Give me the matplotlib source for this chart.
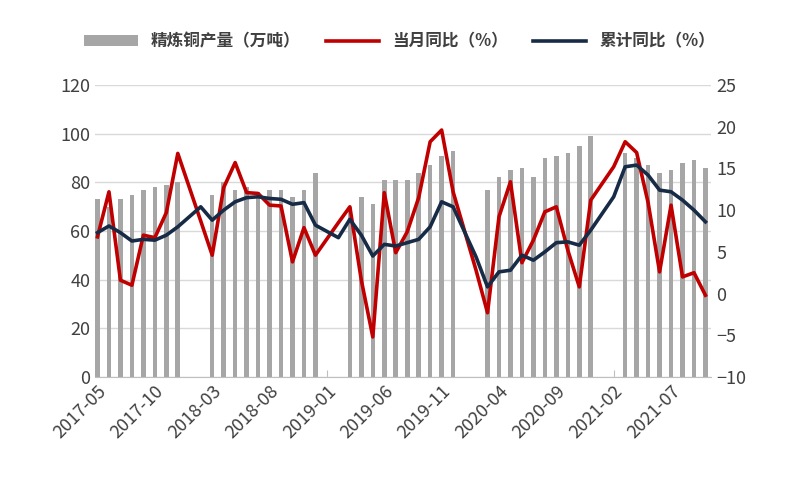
import matplotlib
matplotlib.use("Agg")
import matplotlib.pyplot as plt
import numpy as np
import pandas as pd

plt.rcParams['font.family'] = ['Noto Sans CJK SC', 'DejaVu Sans']

months = pd.period_range('2017-05', '2021-10', freq='M')
nan = np.nan
output = [73, 70, 73, 75, 77, 78, 79, 80,
          nan, nan, 75, 80, 77, 78, 76, 77, 77, 74, 77, 84,
          nan, nan, 70, 74, 71, 81, 81, 81, 84, 87, 91, 93,
          nan, nan, 77, 82, 85, 86, 82, 90, 91, 92, 95, 99,
          nan, nan, 92, 90, 87, 84, 85, 88, 89, 86]
monthly_yoy = [6.8, 12.2, 1.6, 1.0, 7.0, 6.7, 9.7, 16.8,
               nan, 8.7, 4.6, 12.7, 15.7, 12.1, 12.0, 10.6, 10.5, 3.8, 7.9, 4.6,
               nan, 8.5, 10.4, 1.6, -5.2, 12.1, 4.9, 7.4, 11.5, 18.2, 19.6, 12.2,
               nan, 2.8, -2.3, 9.2, 13.4, 3.7, 6.4, 9.8, 10.4, 5.2, 0.8, 11.2,
               nan, 15.2, 18.2, 16.9, 10.9, 2.6, 10.6, 2.0, 2.5, -0.2]
cum_yoy = [7.3, 8.1, 7.3, 6.3, 6.5, 6.4, 7.0, 8.0,
           nan, 10.4, 8.8, 10.0, 11.0, 11.5, 11.6, 11.4, 11.3, 10.7, 10.9, 8.2,
           nan, 6.7, 8.9, 7.0, 4.5, 5.9, 5.7, 6.1, 6.5, 8.0, 11.0, 10.4,
           nan, 4.4, 0.8, 2.6, 2.8, 4.6, 4.0, 5.0, 6.1, 6.2, 5.8, 7.6,
           nan, 11.6, 15.2, 15.4, 14.2, 12.4, 12.2, 11.2, 10.0, 8.6]
tick_labels = ['2017-05', '2017-10', '2018-03', '2018-08', '2019-01', '2019-06',
               '2019-11', '2020-04', '2020-09', '2021-02', '2021-07']

x = np.arange(len(months))
out = np.array(output, float)
my = np.array(monthly_yoy, float)
cy = np.array(cum_yoy, float)

fig = plt.figure(figsize=(8, 5), dpi=100)
ax = fig.add_axes([0.119, 0.246, 0.77, 0.584])
ax2 = ax.twinx()
ax.bar(x, out, width=0.4, color='#a6a6a6', label='精炼铜产量（万吨）', zorder=2)
m1 = ~np.isnan(my)
ax2.plot(x[m1], my[m1], color='#c00000', lw=2.6, label='当月同比（%）', zorder=3)
m2 = ~np.isnan(cy)
ax2.plot(x[m2], cy[m2], color='#172b46', lw=2.6, label='累计同比（%）', zorder=4)

ax.set_ylim(0, 120)
ax.set_yticks(range(0, 121, 20))
ax2.set_ylim(-10, 25)
ax2.set_yticks(range(-10, 26, 5))
ax.set_xlim(-0.2, len(x) - 0.5)
ax.grid(axis='y', color='#d9d9d9', lw=1, zorder=0)
ax.set_axisbelow(True)
for a in (ax, ax2):
    for s in ('top', 'right', 'left'):
        a.spines[s].set_visible(False)
    a.tick_params(length=0, labelsize=13, colors='#404040')
ax2.spines['bottom'].set_visible(False)
ax.spines['bottom'].set_color('#bfbfbf')
tick_pos = [i for i, m in enumerate(months) if str(m) in tick_labels]
ax.set_xticks(tick_pos)
ax.set_xticklabels(tick_labels, rotation=45, ha='right', rotation_mode='anchor', fontsize=13)
ax.tick_params(axis='x', length=5, color='#bfbfbf', direction='in')

h1, l1 = ax.get_legend_handles_labels()
h2, l2 = ax2.get_legend_handles_labels()
leg = fig.legend(h1 + h2, l1 + l2, loc='upper center', bbox_to_anchor=(0.5, 0.965), ncol=3,
                 frameon=False, fontsize=12, handlelength=3.2, columnspacing=1.5)
for t in leg.get_texts():
    t.set_color('#404040')
    t.set_fontweight('bold')
fig.savefig('out.png', dpi=100)
